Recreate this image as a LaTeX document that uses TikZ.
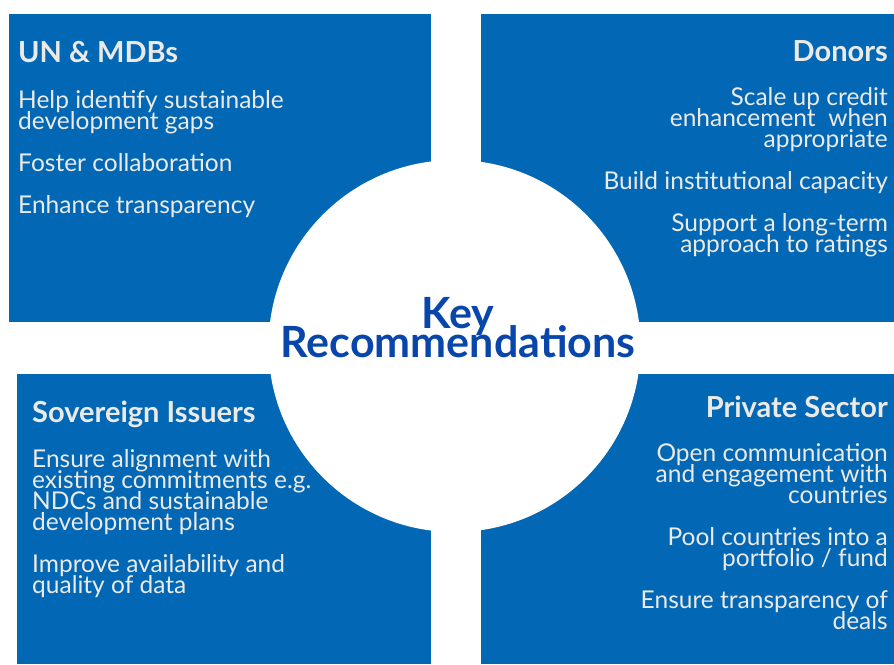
\documentclass[tikz,border=0pt]{standalone}
\usepackage{fontspec}
\setmainfont{Lato}
\definecolor{boxblue}{RGB}{2,103,180}
\definecolor{titleblue}{RGB}{8,70,172}
\definecolor{paletext}{RGB}{236,234,230}
\newcommand\tightlines{\lineskiplimit=-50pt\relax}
\tikzset{
  panel/.style={fill=boxblue, draw=none},
  head/.style={text=paletext, font=\fontsize{29}{29}\selectfont\bfseries, inner sep=0pt},
  item/.style={text=paletext, font=\fontsize{24.5}{21}\selectfont\tightlines, inner sep=0pt},
}
\begin{document}
\begin{tikzpicture}[x=1pt, y=-1pt]
	\useasboundingbox (0,0) rectangle (894,664);
	% the four panels
	\fill[panel] (9,14) rectangle (431,322);
	\fill[panel] (481,14) rectangle (894,322);
	\fill[panel] (17,374) rectangle (431,664);
	\fill[panel] (481,374) rectangle (894,664);
	% centre disc
	\fill[white] (454.5,346) circle[radius=186pt];
	\node[text=titleblue, font=\fontsize{43}{29}\selectfont\bfseries\tightlines, align=center, inner sep=0pt, anchor=base] (key) at (458,357) {Key\\Recommendations};
	% UN & MDBs
	\node[head, anchor=base west] (unhead) at (18,62) {UN \& MDBs};
	\node[item, align=left, anchor=base west] (unitems) at (18,213) {Help identify sustainable\\development gaps\\[21pt]Foster collaboration\\[21pt]Enhance transparency};
	% Donors
	\node[head, anchor=base east] (donhead) at (888,61) {Donors};
	\node[item, align=right, anchor=base east] (donitems) at (888,252) {Scale up credit\\enhancement~ when\\appropriate\\[21pt]Build institutional capacity\\[21pt]Support a long-term\\approach to ratings};
	% Sovereign Issuers
	\node[head, anchor=base west] (sovhead) at (32,422) {Sovereign Issuers};
	\node[item, align=left, anchor=base west] (sovitems) at (32,593) {Ensure alignment with\\existing commitments e.g.\\NDCs and sustainable\\development plans\\[21pt]Improve availability and\\quality of data};
	% Private Sector
	\node[head, anchor=base east] (privhead) at (888,417) {Private Sector};
	\node[item, align=right, anchor=base east] (privitems) at (888,629) {Open communication\\and engagement with\\countries\\[21pt]Pool countries into a\\portfolio / fund\\[21pt]Ensure transparency of\\deals};
\end{tikzpicture}
\end{document}
